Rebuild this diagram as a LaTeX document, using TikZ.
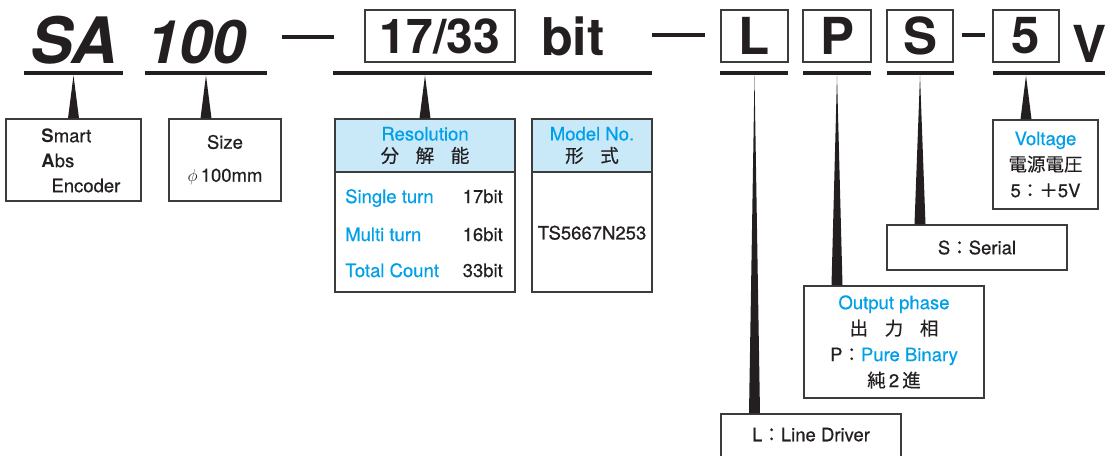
\documentclass[tikz,border=0pt]{standalone}
\usepackage{fontspec}
\setmainfont{TeX Gyre Heros}
\newfontfamily\medfont{TeX Gyre Heros}[FakeBold=0.5]
\newfontfamily\cjk{Noto Sans CJK JP}[FakeBold=0.4]
\usetikzlibrary{positioning, calc}
\definecolor{mycyan}{HTML}{00A0E9}
\definecolor{myhead}{HTML}{C9E9F9}
\definecolor{myink}{HTML}{231F20}
\definecolor{myframe}{HTML}{3C3C3C}

\begin{document}
\begin{tikzpicture}[
    x=1pt, y=-1pt,
    font=\medfont\fontsize{18.5}{26}\selectfont,
    text=myink,
    % Estilos de los nodos
    codebox/.style={
        rectangle,
        draw=myframe,
        line width=1.2pt,
        minimum height=52pt,
        inner sep=0pt,
        font=\rmfamily\fontsize{51}{51}\selectfont\bfseries
    },
    infobox/.style={
        rectangle,
        draw=myframe,
        fill=white,
        line width=1.5pt,
        inner sep=0pt,
        align=center
    },
    headbox/.style={
        infobox,
        fill=myhead,
        minimum height=53pt,
        anchor=north,
        font=\medfont\fontsize{18.5}{22}\selectfont
    },
    bigtext/.style={anchor=base west, inner sep=0pt},
    bar/.style={rectangle, fill=myink, inner sep=0pt, minimum height=4.5pt},
    % Estilo de las cunas
    wedge/.style={fill=myink}
]
\useasboundingbox (0,0) rectangle (1105,455);
\clip (0,0) rectangle (1105,455);

% -- Codigo del modelo --
\node[bigtext, font=\rmfamily\fontsize{64}{64}\selectfont\bfseries\itshape] (tsa) at (30,63) {SA};
\node[bigtext, font=\rmfamily\fontsize{60}{60}\selectfont\bfseries\itshape] (t100) at (146,63) {100};
\node[bar, minimum width=52pt] (d1) at (308,37) {};
\node[codebox, minimum width=150pt, font=\rmfamily\fontsize{48}{48}\selectfont\bfseries] (b1733) at (440,36) {17/33};
\node[bigtext, font=\rmfamily\fontsize{52}{52}\selectfont\bfseries] (tbit) at (541,55) {bit};
\node[bar, minimum width=53pt] (d2) at (678.5,35) {};
\node[codebox, minimum width=67pt] (bl) at (754.5,36) {L};
\node[codebox, minimum width=68pt] (bp) at (837,36) {P};
\node[codebox, minimum width=66pt] (bs) at (920,36) {S};
\node[bar, minimum width=23pt] (d3) at (973.5,35) {};
\node[codebox, minimum width=66pt] (b5) at (1026,36) {5};
\node[bigtext, font=\rmfamily\fontsize{51}{51}\selectfont\bfseries] (tv) at (1072,62) {V};

% -- Subrayados --
\node[bar, minimum width=99pt] (usa) at (73.5,73) {};
\node[bar, minimum width=122pt] (u100) at (206,73) {};
\node[bar, minimum width=319pt] (ubit) at (492.5,73) {};
\node[bar, minimum width=68pt] (ul) at (754,73) {};
\node[bar, minimum width=68pt] (up) at (837,73) {};
\node[bar, minimum width=67pt] (us) at (920.5,73) {};
\node[bar, minimum width=120pt] (u5) at (1053,73) {};

% -- Cuadros de descripcion --
\node[infobox, minimum width=135pt, minimum height=82pt] (smart) at (73.5,160) {};
\node[anchor=west, inner sep=0pt, align=left, font=\medfont\fontsize{18.5}{25}\selectfont] (smarttxt) at ($(smart.west)+(36,0.5)$) {{\rmfamily\bfseries S}mart\\{\rmfamily\bfseries A}bs\\\hspace*{10pt}Encoder};

\node[infobox, minimum width=112pt, minimum height=82pt, font=\medfont\fontsize{18.5}{33}\selectfont] (size) at (225,160) {Size\\$\phi$\,100mm};

\node[infobox, minimum width=180pt, minimum height=173pt] (res) at (425,205.5) {};
\node[headbox, minimum width=180pt] (reshead) at (res.north) {\textcolor{mycyan}{Resolution}\\{\cjk 分\hspace{0.9em}解\hspace{0.9em}能}};
\foreach \lab/\val/\yy [count=\i] in {Single turn/17bit/203, Multi turn/16bit/241, Total Count/33bit/277}{
    \node[anchor=base west, inner sep=0pt, text=mycyan] (rl\i) at (345,\yy) {\lab};
    \node[anchor=base east, inner sep=0pt] (rv\i) at (503,\yy) {\val};
}

\node[infobox, minimum width=120pt, minimum height=173pt] (model) at (592,205.5) {};
\node[headbox, minimum width=120pt] (modelhead) at (model.north) {\textcolor{mycyan}{Model No.}\\{\cjk 形\hspace{0.9em}式}};
\node[inner sep=0pt] (modelno) at ($(model.south)!0.5!(modelhead.south)$) {TS5667N253};

\node[infobox, minimum width=105pt, minimum height=89pt] (volt) at (1045.5,164.5) {\textcolor{mycyan}{Voltage}\\{\cjk 電源電圧}\\5{\cjk ：＋}5V};
\node[infobox, minimum width=180pt, minimum height=45pt] (serial) at (977,247.5) {S{\cjk ：}Serial};
\node[infobox, minimum width=180pt, minimum height=112pt] (outp) at (894,342) {\textcolor{mycyan}{Output phase}\\{\cjk 出\hspace{0.9em}力\hspace{0.9em}相}\\P{\cjk ：}\textcolor{mycyan}{Pure Binary}\\{\cjk 純}\,2\,{\cjk 進}};
\node[infobox, minimum width=180pt, minimum height=60pt] (line) at (811,444) {};
\node[anchor=base, inner sep=0pt] (linetxt) at ($(line.north)+(0,28)$) {L{\cjk ：}Line Driver};

% -- Cunas de conexion --
\foreach \c/\u/\b in {usa/usa/smart, u100/u100/size, res/ubit/res, bl/ul/line, bp/up/outp, bs/us/serial, b5/u5/volt}
    \fill[wedge] (\c.center |- \u.south) -- ($(\c.center |- \b.north)+(-5.5,0)$) -- ($(\c.center |- \b.north)+(5.5,0)$) -- cycle;

\end{tikzpicture}
\end{document}
